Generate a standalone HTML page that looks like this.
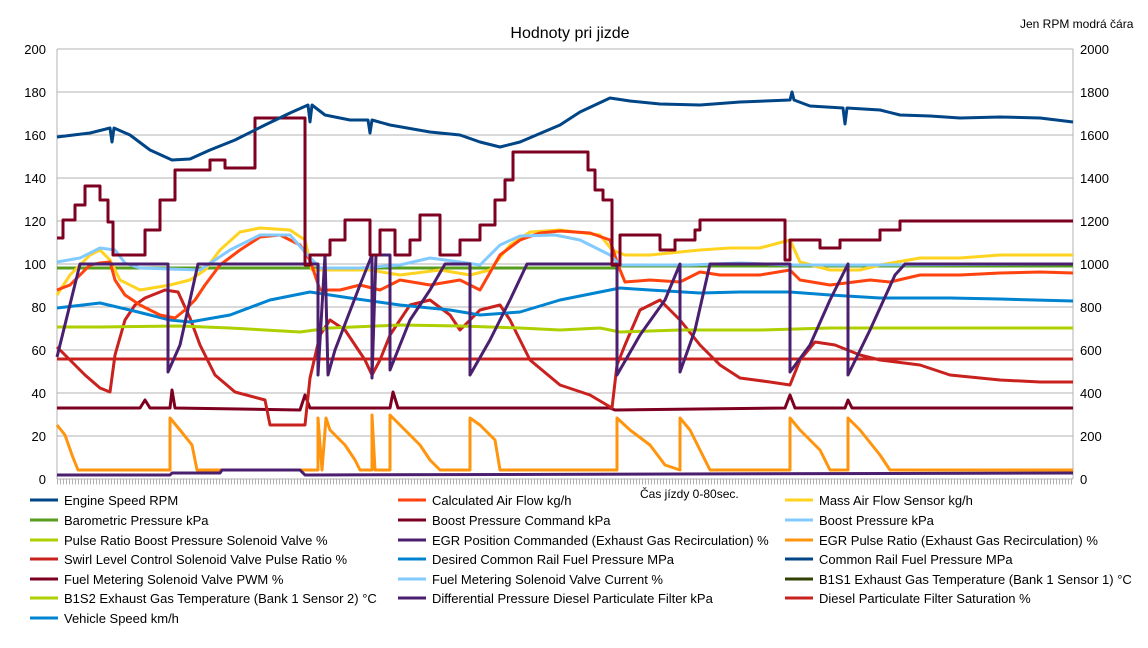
<!DOCTYPE html>
<html><head><meta charset="utf-8"><style>
body{margin:0;background:#fff;}
svg text{font-family:"Liberation Sans",sans-serif;}
</style></head><body>
<svg width="1148" height="643" xmlns="http://www.w3.org/2000/svg">
<rect width="1148" height="643" fill="#fff"/>
<text x="570" y="38" font-size="16" text-anchor="middle">Hodnoty pri jizde</text>
<text x="1020" y="28" font-size="12">Jen RPM modrá čára</text>
<g stroke="#b3b3b3" stroke-width="1">
<line x1="57" y1="49" x2="1073" y2="49"/><line x1="57" y1="92" x2="1073" y2="92"/><line x1="57" y1="135" x2="1073" y2="135"/><line x1="57" y1="178" x2="1073" y2="178"/><line x1="57" y1="221" x2="1073" y2="221"/><line x1="57" y1="264" x2="1073" y2="264"/><line x1="57" y1="307" x2="1073" y2="307"/><line x1="57" y1="350" x2="1073" y2="350"/><line x1="57" y1="393" x2="1073" y2="393"/><line x1="57" y1="436" x2="1073" y2="436"/><line x1="57" y1="479" x2="1073" y2="479"/>
<line x1="57" y1="49" x2="57" y2="479"/><line x1="1073" y1="49" x2="1073" y2="479"/>
</g>
<line x1="57" y1="482" x2="1073" y2="482" stroke="#b3b3b3" stroke-width="5" stroke-dasharray="1,2"/>
<g font-size="13" text-anchor="end">
<text x="46" y="54">200</text><text x="46" y="97">180</text><text x="46" y="140">160</text><text x="46" y="183">140</text><text x="46" y="226">120</text><text x="46" y="269">100</text><text x="46" y="312">80</text><text x="46" y="355">60</text><text x="46" y="398">40</text><text x="46" y="441">20</text><text x="46" y="484">0</text>
</g>
<g font-size="13">
<text x="1080" y="54">2000</text><text x="1080" y="97">1800</text><text x="1080" y="140">1600</text><text x="1080" y="183">1400</text><text x="1080" y="226">1200</text><text x="1080" y="269">1000</text><text x="1080" y="312">800</text><text x="1080" y="355">600</text><text x="1080" y="398">400</text><text x="1080" y="441">200</text><text x="1080" y="484">0</text>
</g>
<text x="640" y="498" font-size="12">Čas jízdy 0-80sec.</text>
<g fill="none" stroke-width="3" stroke-linejoin="round">
<polyline stroke="#ff950e" points="57,425 65,435 72,455 78,470 170,470 170,418 180,430 192,445 197,470 318,470 318,418 322,470 326,418 330,430 345,445 355,460 360,470 372,470 372,415 375,470 390,470 390,415 405,430 420,445 430,460 440,470 470,470 470,418 480,425 495,440 500,470 617,470 617,418 630,430 650,445 665,465 680,470 680,418 690,430 710,470 790,470 790,418 800,430 820,450 830,470 848,470 848,418 860,430 880,455 890,470 1073,470"/>
<polyline stroke="#4b1f6f" points="57,475 170,475 172,473 220,473 222,470 300,470 305,475 1073,473"/>
<polyline stroke="#7e0021" points="57,408 140,408 145,400 150,408 170,408 172,390 175,408 300,410 305,395 310,408 390,408 393,392 398,408 610,408 615,410 785,408 790,395 795,408 845,408 848,400 852,408 1073,408"/>
<polyline stroke="#c9211e" points="57,359 1073,359"/>
<polyline stroke="#c9211e" points="57,347 70,360 85,375 100,388 110,392 115,355 125,320 135,305 145,298 165,290 178,292 190,318 200,345 215,375 235,392 265,400 270,425 305,425 310,378 320,335 330,320 345,330 355,345 365,360 372,375 380,360 390,335 400,320 410,305 430,300 450,315 460,330 480,310 500,305 510,320 530,360 560,385 590,395 612,408 617,365 625,345 640,310 660,300 680,320 700,345 720,365 740,378 770,382 790,385 800,360 815,342 835,345 860,355 880,360 920,365 950,375 1000,380 1040,382 1073,382"/>
<polyline stroke="#aecf00" points="57,327 100,327 180,326 230,328 300,332 330,328 400,325 460,326 520,328 560,330 600,328 620,332 680,330 760,330 830,328 1073,328"/>
<polyline stroke="#579d1c" points="57,268 617,268 620,266 1073,266"/>
<polyline stroke="#0084d1" points="57,308 100,303 130,310 170,320 190,322 230,315 270,300 310,292 350,298 400,305 450,310 480,315 520,312 560,300 600,292 620,288 650,290 700,293 740,292 790,292 830,295 880,298 950,298 1000,299 1073,301"/>
<polyline stroke="#ffd320" points="57,295 70,275 90,255 100,250 110,260 120,280 140,290 170,285 190,280 205,270 220,250 240,232 260,228 290,230 305,240 312,270 330,270 370,270 400,275 440,270 470,275 490,270 510,245 530,232 560,230 600,235 612,250 625,255 650,255 700,250 730,248 760,248 790,240 800,262 830,270 860,270 880,265 920,258 960,258 1000,255 1040,255 1073,255"/>
<polyline stroke="#ff420e" points="57,290 70,285 80,275 90,265 100,263 110,262 115,280 125,295 140,305 160,315 175,318 185,310 195,300 205,285 220,265 240,250 260,237 280,235 300,245 310,260 320,290 340,290 360,285 380,290 400,280 430,285 460,280 480,290 500,255 520,240 540,233 560,231 590,233 610,240 618,265 625,282 650,280 680,282 700,272 720,275 760,275 790,270 800,280 830,285 870,280 890,282 920,275 960,275 1000,273 1040,272 1073,273"/>
<polyline stroke="#83caff" points="57,262 80,258 100,248 115,250 125,263 140,268 200,270 230,250 260,235 290,235 305,252 320,268 360,268 400,265 430,258 460,262 480,265 500,245 520,236 555,235 580,240 610,255 620,265 650,265 690,265 740,263 790,265 820,265 870,265 1073,264"/>
<polyline stroke="#4b1f6f" points="57,357 80,264 168,264 168,372 180,345 198,264 318,264 318,375 325,255 328,375 335,350 360,285 372,255 372,378 376,255 390,255 390,370 410,320 430,290 445,264 470,264 470,375 490,340 510,300 527,264 617,264 617,375 640,335 665,300 680,264 680,372 695,330 710,264 790,264 790,372 810,345 830,300 848,264 848,375 870,330 895,275 905,264 1073,264"/>
<polyline stroke="#7e0021" points="57,238 63,238 63,220 75,220 75,205 85,205 85,186 100,186 100,200 108,200 108,222 113,222 113,255 145,255 145,230 160,230 160,200 175,200 175,170 210,170 210,160 225,160 225,168 255,168 255,118 305,118 305,265 310,265 310,255 330,255 330,240 345,240 345,220 370,220 370,255 380,255 380,230 395,230 395,255 410,255 410,240 420,240 420,215 440,215 440,255 460,255 460,240 480,240 480,225 495,225 495,200 505,200 505,180 513,180 513,152 588,152 588,170 595,170 595,190 603,190 603,200 612,200 612,265 620,265 620,235 660,235 660,250 675,250 675,240 695,240 695,230 700,230 700,220 785,220 785,260 790,260 790,240 820,240 820,248 840,248 840,240 880,240 880,230 900,230 900,221 1073,221"/>
<polyline stroke="#004586" points="57,137 90,133 110,128 112,142 114,128 130,135 150,150 172,160 190,159 210,150 235,140 265,125 290,113 308,105 310,122 312,105 325,115 350,120 368,120 370,133 372,120 390,125 430,132 460,135 480,142 500,147 520,142 560,125 580,112 610,98 630,101 660,104 700,105 740,102 790,100 792,92 794,100 810,106 843,108 845,124 847,108 880,110 900,115 930,116 960,118 1000,117 1040,118 1073,122"/>
</g>
<g font-size="13">
<g stroke-width="3">
<line x1="30" y1="500" x2="58" y2="500" stroke="#004586"/><line x1="30" y1="520" x2="58" y2="520" stroke="#579d1c"/><line x1="30" y1="540" x2="58" y2="540" stroke="#aecf00"/><line x1="30" y1="559" x2="58" y2="559" stroke="#c9211e"/><line x1="30" y1="579" x2="58" y2="579" stroke="#7e0021"/><line x1="30" y1="598" x2="58" y2="598" stroke="#aecf00"/><line x1="30" y1="618" x2="58" y2="618" stroke="#0084d1"/>
<line x1="398" y1="500" x2="426" y2="500" stroke="#ff420e"/><line x1="398" y1="520" x2="426" y2="520" stroke="#7e0021"/><line x1="398" y1="540" x2="426" y2="540" stroke="#4b1f6f"/><line x1="398" y1="559" x2="426" y2="559" stroke="#0084d1"/><line x1="398" y1="579" x2="426" y2="579" stroke="#83caff"/><line x1="398" y1="598" x2="426" y2="598" stroke="#4b1f6f"/>
<line x1="785" y1="500" x2="813" y2="500" stroke="#ffd320"/><line x1="785" y1="520" x2="813" y2="520" stroke="#83caff"/><line x1="785" y1="540" x2="813" y2="540" stroke="#ff950e"/><line x1="785" y1="559" x2="813" y2="559" stroke="#004586"/><line x1="785" y1="579" x2="813" y2="579" stroke="#314004"/><line x1="785" y1="598" x2="813" y2="598" stroke="#c9211e"/>
</g>
<text x="64" y="505">Engine Speed RPM</text><text x="64" y="525">Barometric Pressure kPa</text><text x="64" y="545">Pulse Ratio Boost Pressure Solenoid Valve %</text><text x="64" y="564">Swirl Level Control Solenoid Valve Pulse Ratio %</text><text x="64" y="584">Fuel Metering Solenoid Valve PWM %</text><text x="64" y="603">B1S2 Exhaust Gas Temperature (Bank 1 Sensor 2) °C</text><text x="64" y="623">Vehicle Speed km/h</text>
<text x="432" y="505">Calculated Air Flow kg/h</text><text x="432" y="525">Boost Pressure Command kPa</text><text x="432" y="545">EGR Position Commanded (Exhaust Gas Recirculation) %</text><text x="432" y="564">Desired Common Rail Fuel Pressure MPa</text><text x="432" y="584">Fuel Metering Solenoid Valve Current %</text><text x="432" y="603">Differential Pressure Diesel Particulate Filter kPa</text>
<text x="819" y="505">Mass Air Flow Sensor kg/h</text><text x="819" y="525">Boost Pressure kPa</text><text x="819" y="545">EGR Pulse Ratio (Exhaust Gas Recirculation) %</text><text x="819" y="564">Common Rail Fuel Pressure MPa</text><text x="819" y="584">B1S1 Exhaust Gas Temperature (Bank 1 Sensor 1) °C</text><text x="819" y="603">Diesel Particulate Filter Saturation %</text>
</g>
</svg>
</body></html>
